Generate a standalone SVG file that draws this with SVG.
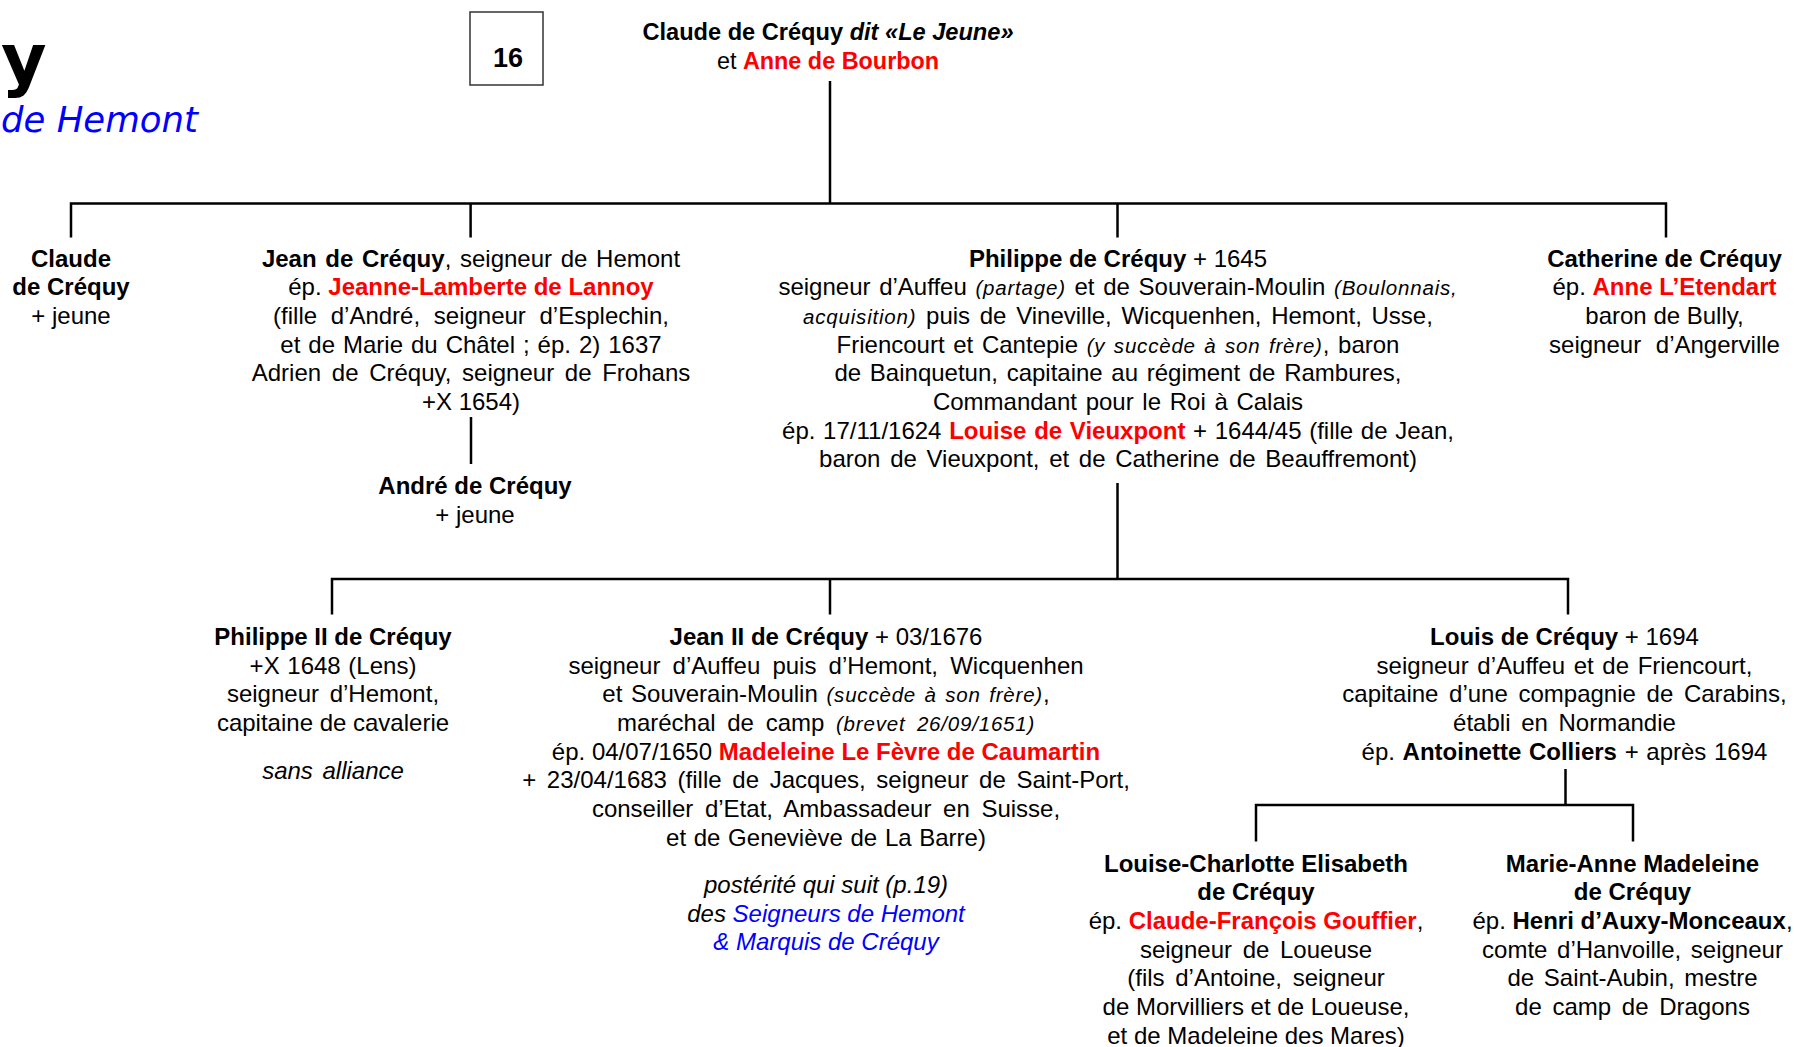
<svg xmlns="http://www.w3.org/2000/svg" width="1794" height="1047" viewBox="0 0 1794 1047">
<style>
.t{font-family:"Liberation Sans",Arial,sans-serif;font-size:24px;fill:#000;text-anchor:middle}
.b{font-weight:bold}
.i{font-style:italic}
.r{fill:#FF0000;font-weight:bold}
.bl{fill:#0000FF}
.s{font-style:italic;font-size:20.5px;letter-spacing:0.8px}
.ln{fill:none;stroke:#000;stroke-width:2.5}
</style>
<rect width="1794" height="1047" fill="#fff"/>
<g id="title">
<text x="1" y="83" style="font-family:'DejaVu Sans',Verdana,sans-serif;font-weight:bold;font-size:70px">y</text>
<text x="1" y="132" style="font-family:'DejaVu Sans',Verdana,sans-serif;font-style:italic;font-size:35.5px;fill:#0000FF">de Hemont</text>
</g>
<g id="page">
<rect x="470" y="12" width="73" height="73" fill="#fff" stroke="#333" stroke-width="1.5"/>
<text class="t b" x="508" y="67" style="font-size:27px">16</text>
</g>
<g id="connectors" class="ln">
<path class="ln" d="M830,81 V203.5"/>
<path class="ln" d="M71,237.5 V203.5 H1666 V237.5"/>
<path class="ln" d="M470.6,203.5 V237.5"/>
<path class="ln" d="M1117.5,203.5 V237.5"/>
<path class="ln" d="M471,417 V464"/>
<path class="ln" d="M1117.5,483 V579"/>
<path class="ln" d="M332,614.5 V579 H1568 V614.5"/>
<path class="ln" d="M830,579 V614.5"/>
<path class="ln" d="M1565.5,769 V805"/>
<path class="ln" d="M1256,841.5 V805 H1633 V841.5"/>
</g>
<g id="parents">
<text class="t b" x="828" y="40" style="font-size:23.6px">Claude de Créquy <tspan class="i">dit «Le Jeune»</tspan></text>
<text class="t" x="828" y="69" style="font-size:23.4px">et <tspan class="r">Anne de Bourbon</tspan></text>
</g>
<g id="claude">
<text class="t b" x="71" y="266.7">Claude</text>
<text class="t b" x="71" y="295.3">de Créquy</text>
<text class="t" x="71" y="324">+ jeune</text>
</g>
<g id="jean">
<text class="t" x="471" y="266.7" word-spacing="2"><tspan class="b">Jean de Créquy</tspan>, seigneur de Hemont</text>
<text class="t" x="471" y="295.3">ép. <tspan class="r">Jeanne-Lamberte de Lannoy</tspan></text>
<text class="t" x="471" y="324" word-spacing="7">(fille d’André, seigneur d’Esplechin,</text>
<text class="t" x="471" y="352.6" word-spacing="1.3">et de Marie du Châtel ; ép. 2) 1637</text>
<text class="t" x="471" y="381.3" word-spacing="4">Adrien de Créquy, seigneur de Frohans</text>
<text class="t" x="471" y="410">+X 1654)</text>
</g>
<g id="andre">
<text class="t b" x="475" y="494">André de Créquy</text>
<text class="t" x="475" y="522.6">+ jeune</text>
</g>
<g id="philippe">
<text class="t" x="1118" y="266.7"><tspan class="b">Philippe de Créquy</tspan> + 1645</text>
<text class="t" x="1118" y="295.3" word-spacing="2">seigneur d’Auffeu <tspan class="s">(partage)</tspan> et de Souverain-Moulin <tspan class="s">(Boulonnais,</tspan></text>
<text class="t" x="1118" y="324" word-spacing="3"><tspan class="s">acquisition)</tspan> puis de Vineville, Wicquenhen, Hemont, Usse,</text>
<text class="t" x="1118" y="352.6" word-spacing="2">Friencourt et Cantepie <tspan class="s">(y succède à son frère)</tspan>, baron</text>
<text class="t" x="1118" y="381.3" word-spacing="2">de Bainquetun, capitaine au régiment de Rambures,</text>
<text class="t" x="1118" y="410" word-spacing="2">Commandant pour le Roi à Calais</text>
<text class="t" x="1118" y="438.6" word-spacing="1">ép. 17/11/1624 <tspan class="r">Louise de Vieuxpont</tspan> + 1644/45 (fille de Jean,</text>
<text class="t" x="1118" y="467.3" word-spacing="3">baron de Vieuxpont, et de Catherine de Beauffremont)</text>
</g>
<g id="catherine">
<text class="t b" x="1664.5" y="266.7">Catherine de Créquy</text>
<text class="t" x="1664.5" y="295.3">ép. <tspan class="r">Anne L’Etendart</tspan></text>
<text class="t" x="1664.5" y="324">baron de Bully,</text>
<text class="t" x="1664.5" y="352.6" word-spacing="8">seigneur d’Angerville</text>
</g>
<g id="philippe2">
<text class="t b" x="333" y="645">Philippe II de Créquy</text>
<text class="t" x="333" y="673.7" word-spacing="1">+X 1648 (Lens)</text>
<text class="t" x="333" y="702.4" word-spacing="4">seigneur d’Hemont,</text>
<text class="t" x="333" y="731">capitaine de cavalerie</text>
<text class="t i" x="333" y="778.5" word-spacing="3">sans alliance</text>
</g>
<g id="jean2">
<text class="t" x="826" y="645"><tspan class="b">Jean II de Créquy</tspan> + 03/1676</text>
<text class="t" x="826" y="673.7" word-spacing="5.5">seigneur d’Auffeu puis d’Hemont, Wicquenhen</text>
<text class="t" x="826" y="702.4" word-spacing="2">et Souverain-Moulin <tspan class="s">(succède à son frère)</tspan>,</text>
<text class="t" x="826" y="731" word-spacing="5">maréchal de camp <tspan class="s">(brevet 26/09/1651)</tspan></text>
<text class="t" x="826" y="759.7">ép. 04/07/1650 <tspan class="r">Madeleine Le Fèvre de Caumartin</tspan></text>
<text class="t" x="826" y="788.3" word-spacing="4">+ 23/04/1683 (fille de Jacques, seigneur de Saint-Port,</text>
<text class="t" x="826" y="817" word-spacing="5">conseiller d’Etat, Ambassadeur en Suisse,</text>
<text class="t" x="826" y="845.7" word-spacing="1">et de Geneviève de La Barre)</text>
<text class="t i" x="826" y="893">postérité qui suit (p.19)</text>
<text class="t i" x="826" y="921.6">des <tspan class="bl">Seigneurs de Hemont</tspan></text>
<text class="t i bl" x="826" y="950.3">&amp; Marquis de Créquy</text>
</g>
<g id="louis">
<text class="t" x="1564.5" y="645"><tspan class="b">Louis de Créquy</tspan> + 1694</text>
<text class="t" x="1564.5" y="673.7" word-spacing="2">seigneur d’Auffeu et de Friencourt,</text>
<text class="t" x="1564.5" y="702.4" word-spacing="4">capitaine d’une compagnie de Carabins,</text>
<text class="t" x="1564.5" y="731" word-spacing="4">établi en Normandie</text>
<text class="t" x="1564.5" y="759.7" word-spacing="1">ép. <tspan class="b">Antoinette Colliers</tspan> + après 1694</text>
</g>
<g id="louise-charlotte">
<text class="t b" x="1256" y="871.7">Louise-Charlotte Elisabeth</text>
<text class="t b" x="1256" y="900.3">de Créquy</text>
<text class="t" x="1256" y="929">ép. <tspan class="r">Claude-François Gouffier</tspan>,</text>
<text class="t" x="1256" y="957.6" word-spacing="4">seigneur de Loueuse</text>
<text class="t" x="1256" y="986.3" word-spacing="4">(fils d’Antoine, seigneur</text>
<text class="t" x="1256" y="1015">de Morvilliers et de Loueuse,</text>
<text class="t" x="1256" y="1043.6">et de Madeleine des Mares)</text>
</g>
<g id="marie-anne">
<text class="t b" x="1632.5" y="871.7">Marie-Anne Madeleine</text>
<text class="t b" x="1632.5" y="900.3">de Créquy</text>
<text class="t" x="1632.5" y="929">ép. <tspan class="b">Henri d’Auxy-Monceaux</tspan>,</text>
<text class="t" x="1632.5" y="957.6" word-spacing="3">comte d’Hanvoille, seigneur</text>
<text class="t" x="1632.5" y="986.3" word-spacing="3">de Saint-Aubin, mestre</text>
<text class="t" x="1632.5" y="1015" word-spacing="4">de camp de Dragons</text>
</g>
</svg>
